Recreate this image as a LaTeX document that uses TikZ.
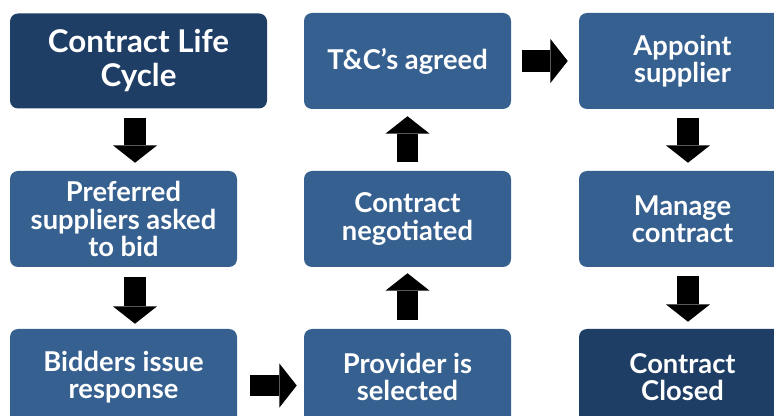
\documentclass[tikz,border=0pt]{standalone}
\usepackage{fontspec}
\setmainfont{Lato}
\usetikzlibrary{arrows.meta}
\definecolor{navy}{HTML}{1F3E66}
\definecolor{stepblue}{HTML}{36608F}

\begin{document}
\begin{tikzpicture}[x=0.75pt,y=-0.75pt,
  box/.style={fill=stepblue,rounded corners=6pt,text=white,inner sep=0pt,align=center,
    font=\bfseries\fontsize{20.5}{20.6}\selectfont,minimum width=155.25pt,minimum height=72pt},
  wide/.style={minimum width=170.25pt},
  blk/.style={line width=16pt,-{Triangle[length=13pt,width=33pt,line width=0pt]}}]
  \clip (0,0) rectangle (774,416);
  \useasboundingbox (0,0) rectangle (774,416);

  % left column
  \node[box,fill=navy,minimum width=192.75pt,minimum height=71.25pt,
        font=\bfseries\fontsize{23.5}{25.5}\selectfont] (cl) at (138.5,61) {Contract Life\\Cycle};
  \node[box,wide] (pref) at (123.5,219) {Preferred\\suppliers asked\\to bid};
  \node[box,wide] (bid) at (123.5,377) {Bidders issue\\response};
  % middle column
  \node[box] (prov) at (407.5,377) {Provider is\\selected};
  \node[box] (neg) at (407.5,219) {Contract\\negotiated};
  \node[box] (tc) at (407.5,61) {T\&C’s agreed};
  % right column
  \node[box] (app) at (682.5,61) {Appoint\\supplier};
  \node[box] (man) at (682.5,219) {Manage\\contract};
  \node[box,fill=navy] (closed) at (682.5,377) {Contract\\Closed};

  \draw[blk,shorten <=6.75pt,shorten >=6pt] ([xshift=-2.6pt]cl.south) -- ([xshift=-2.6pt]cl.south |- pref.north);
  \draw[blk,shorten <=7.5pt,shorten >=3.75pt] ([xshift=8.6pt]pref.south) -- ([xshift=8.6pt]pref.south |- bid.north);
  \draw[blk,shorten <=9.75pt,shorten >=5.25pt] ([yshift=-6.4pt]bid.east) -- ([yshift=-6.4pt]bid.east -| prov.west);
  \draw[blk,shorten <=6.75pt,shorten >=4.5pt] (prov.north) -- (neg.south);
  \draw[blk,shorten <=6.75pt,shorten >=5.25pt] (neg.north) -- (tc.south);
  \draw[blk,shorten <=8.25pt,shorten >=8.25pt] (tc.east) -- (app.west);
  \draw[blk,shorten <=6.75pt,shorten >=6pt] ([xshift=4.1pt]app.south) -- ([xshift=4.1pt]app.south |- man.north);
  \draw[blk,shorten <=6.75pt,shorten >=5.25pt] ([xshift=4.1pt]man.south) -- ([xshift=4.1pt]man.south |- closed.north);
\end{tikzpicture}
\end{document}
